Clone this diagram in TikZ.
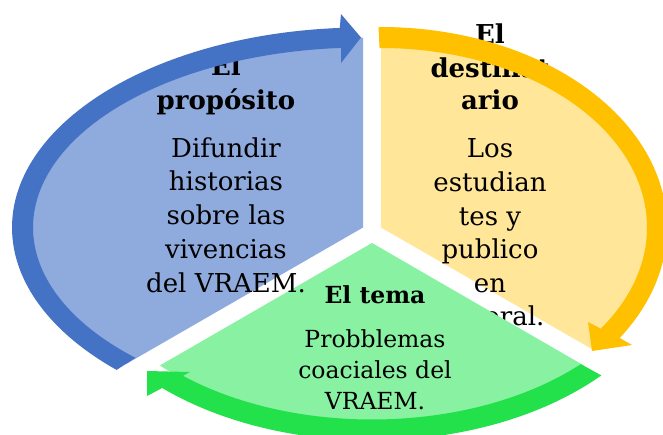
\documentclass[tikz,border=0pt]{standalone}
\usepackage{fontspec}
\setmainfont{DejaVu Serif}
\definecolor{blueDark}{HTML}{4472C4}
\definecolor{blueLight}{HTML}{8FAADC}
\definecolor{yelDark}{HTML}{FFC000}
\definecolor{yelLight}{HTML}{FFE699}
\definecolor{grnDark}{HTML}{22E14B}
\definecolor{grnLight}{HTML}{88F2A2}
\tikzset{
  bodytxt/.style={font=\fontsize{26}{34}\selectfont, anchor=base, inner sep=0pt, text=black},
  titletxt/.style={bodytxt, font=\fontsize{26}{34}\selectfont\bfseries},
  gbodytxt/.style={font=\fontsize{23.5}{31}\selectfont, anchor=base, inner sep=0pt, text=black},
  gtitletxt/.style={gbodytxt, font=\fontsize{23.5}{31}\selectfont\bfseries},
}
\begin{document}
\begin{tikzpicture}[x=1pt,y=-1pt]
\useasboundingbox (0,0) rectangle (663,434);
\clip (0,0) rectangle (663,434);
\fill[white] (0,0) rectangle (663,434);

\coordinate (B) at (363,227.5);
\coordinate (Y) at (381,227.5);
\coordinate (G) at (372,243);

% sectors
\fill[blueLight] (B) -- plot[domain=0:1,samples=90,variable=\t]
  ({363+340.5*cos(90+136*\t)},{227.5-190*sin(90+136*\t)}) -- cycle;
\fill[yelLight] (Y) -- plot[domain=0:1,samples=90,variable=\t]
  ({381+276*cos(90-130*\t)},{227.5-190*sin(90-130*\t)}) -- cycle;

% yellow text
\node[titletxt] (y1) at (490,43) {El};
\node[titletxt] (y2) at (490,77) {destinat};
\node[titletxt] (y3) at (490,109) {ario};
\node[bodytxt] (y4) at (490,157) {Los};
\node[bodytxt] (y5) at (490,191) {estudian};
\node[bodytxt] (y6) at (490,225) {tes y};
\node[bodytxt] (y7) at (490,258) {publico};
\node[bodytxt] (y8) at (490,292) {en};
\node[bodytxt] (y9) at (490,325) {general.};

\fill[grnLight] (G) -- plot[domain=0:1,samples=90,variable=\t]
  ({372+290*cos(223.01+93.98*\t)},{243-179.5*sin(223.01+93.98*\t)}) -- cycle;

% blue text
\node[titletxt] (b1) at (226,75) {El};
\node[titletxt] (b2) at (226,109) {propósito};
\node[bodytxt] (b3) at (226,157) {Difundir};
\node[bodytxt] (b4) at (226,190.5) {historias};
\node[bodytxt] (b5) at (226,224) {sobre las};
\node[bodytxt] (b6) at (226,258) {vivencias};
\node[bodytxt] (b7) at (226,292) {del VRAEM.};

% green text
\node[gtitletxt] (g1) at (375,303) {El tema};
\node[gbodytxt] (g2) at (375,347) {Probblemas};
\node[gbodytxt] (g3) at (375,378) {coaciales del};
\node[gbodytxt] (g4) at (375,409) {VRAEM.};

% arrows
\fill[blueDark] plot[domain=0:1,samples=100,variable=\t]
  ({363+351*cos(225.4-131.8*\t)},{227.5-200*sin(225.4-131.8*\t)})
  -- (341,14) -- (361,37.5) -- (341,63)
  -- plot[domain=0:1,samples=100,variable=\t]
  ({363+330*cos(93.8+132.8*\t)},{227.5-180*sin(93.8+132.8*\t)}) -- cycle;

\fill[yelDark] plot[domain=0:1,samples=100,variable=\t]
  ({381+286*cos(90.5-124.1*\t)},{227.5-200.5*sin(90.5-124.1*\t)})
  -- (632,345) -- (592,351) -- (588,322)
  -- plot[domain=0:1,samples=100,variable=\t]
  ({381+266*cos(-34.3+124.8*\t)},{227.5-179.5*sin(-34.3+124.8*\t)}) -- cycle;

\fill[grnDark] plot[domain=0:1,samples=100,variable=\t]
  ({372+309*cos(317.91-90.81*\t)},{243-197.5*sin(317.91-90.81*\t)})
  -- (147,396) -- (147,371) -- (190,372)
  -- plot[domain=0:1,samples=100,variable=\t]
  ({372+287*cos(228.8+88.01*\t)},{243-176.5*sin(228.8+88.01*\t)}) -- cycle;
\end{tikzpicture}
\end{document}
